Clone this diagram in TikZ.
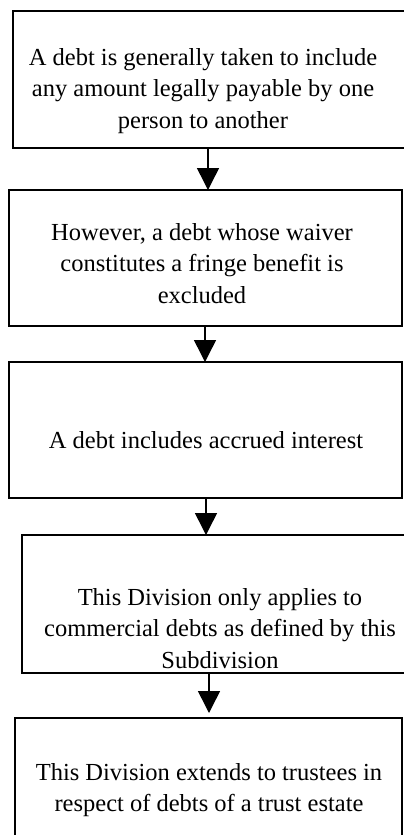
\documentclass[tikz,border=0pt]{standalone}
\usepackage{fontspec}
\setmainfont{Liberation Serif}
\usetikzlibrary{arrows.meta}
\begin{document}
\begin{tikzpicture}[x=1pt,y=-1pt,
  box/.style={draw, line width=1.3pt, rectangle, inner sep=0pt, outer sep=0pt, anchor=north west},
  lbl/.style={inner sep=0pt, anchor=base, font=\fontsize{24.5}{31.7}\selectfont},
  link/.style={line width=1.5pt, -{Triangle[length=22pt,width=22pt]}}]
\useasboundingbox (0,0) rectangle (404,835);

% boxes of the chain
\node[box, minimum width=397pt, minimum height=137pt] (b1) at (13,11) {};
\node[box, minimum width=393pt, minimum height=136pt] (b2) at (9,190) {};
\node[box, minimum width=393pt, minimum height=136pt] (b3) at (9,362) {};
\node[box, minimum width=388pt, minimum height=138pt] (b4) at (22,535) {};
\node[box, minimum width=387pt, minimum height=130pt] (b5) at (15,718) {};

% texts
\node[lbl] (t1) at (203,65) {\begin{tabular}[t]{@{}c@{}}A debt is generally taken to include\\any amount legally payable by one\\person to another\end{tabular}};
\node[lbl] (t2) at (202,240) {\begin{tabular}[t]{@{}c@{}}However, a debt whose waiver\\constitutes a fringe benefit is\\excluded\end{tabular}};
\node[lbl] (t3) at (206,448) {A debt includes accrued interest};
\node[lbl] (t4) at (220,605) {\begin{tabular}[t]{@{}c@{}}This Division only applies to\\commercial debts as defined by this\\Subdivision\end{tabular}};
\node[lbl] (t5) at (209,780) {\begin{tabular}[t]{@{}c@{}}This Division extends to trustees in\\respect of debts of a trust estate\end{tabular}};

% arrow columns
\coordinate (a1) at (208,0);
\coordinate (a2) at (205,0);
\coordinate (a3) at (206,0);
\coordinate (a4) at (209,0);

\draw[link] (b1.south -| a1) -- (b2.north -| a1);
\draw[link] (b2.south -| a2) -- (b3.north -| a2);
\draw[link] (b3.south -| a3) -- (b4.north -| a3);
\draw[link] (b4.south -| a4) -- ([yshift=5pt]b5.north -| a4);
\end{tikzpicture}
\end{document}
